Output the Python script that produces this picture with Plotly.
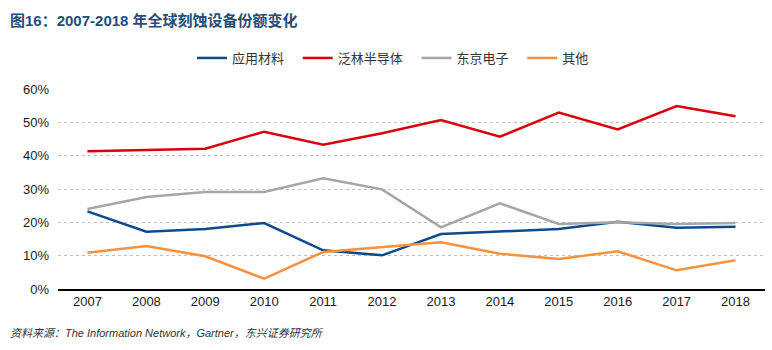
import plotly.graph_objects as go

years = ["2007", "2008", "2009", "2010", "2011", "2012", "2013", "2014", "2015", "2016", "2017", "2018"]
amat = [23.3, 17.2, 18.0, 19.8, 11.6, 10.1, 16.5, 17.2, 18.0, 20.2, 18.4, 18.7]
lam = [41.3, 41.8, 42.1, 47.2, 43.3, 46.7, 50.7, 45.7, 52.9, 47.9, 54.9, 51.8]
tel = [24.0, 27.6, 29.1, 29.1, 33.2, 29.9, 18.5, 25.7, 19.5, 20.0, 19.5, 19.8]
other = [10.9, 12.9, 9.8, 3.1, 11.1, 12.6, 14.0, 10.6, 9.0, 11.3, 5.6, 8.6]

names = ["应用材料", "泛林半导体", "东京电子", "其他"]
colors = ["#0E4A8A", "#D9000D", "#A6A6A6", "#F7913D"]
series = [amat, lam, tel, other]

yticks = [0, 10, 20, 30, 40, 50, 60]
yticklabels = ["0%", "10%", "20%", "30%", "40%", "50%", "60%"]

W, H = 772, 350
L, R, T, B = 58, 7, 88, 61
pw, ph = W - L - R, H - T - B


def px(x):
    return (x - L) / pw


def py(y):
    return (H - B - y) / ph


fig = go.Figure()
for n, c, s in zip(names, colors, series):
    fig.add_trace(go.Scatter(x=years, y=s, name=n + "\u00a0\u00a0\u00a0", mode="lines",
                             line=dict(color=c, width=2.5)))

fig.update_layout(
    width=W, height=H,
    margin=dict(l=L, r=R, t=T, b=B),
    paper_bgcolor="white", plot_bgcolor="white",
    font=dict(family="Liberation Sans, Noto Sans CJK SC", size=13, color="#1a1a1a"),
    showlegend=True,
    legend=dict(orientation="h", x=px(192), xanchor="left", y=1 - 58 / H, yanchor="middle",
                yref="container", font=dict(family="Noto Sans CJK SC", size=13, color="#333333"),
                itemwidth=30, tracegroupgap=0),
    xaxis=dict(type="category", range=[-0.5, 11.5], showgrid=False,
               showline=True, linecolor="#000000", linewidth=1.5,
               ticks="", tickfont=dict(size=13, color="#1a1a1a")),
    yaxis=dict(range=[0, 60.3], tickvals=yticks, ticktext=yticklabels,
               showgrid=True, gridcolor="#BFBFBF", griddash="dot", gridwidth=1,
               zeroline=False, showline=False, ticks="", ticklabelstandoff=8,
               tickfont=dict(size=13, color="#1a1a1a")),
)

fig.add_annotation(text="<b>图16：2007-2018 年全球刻蚀设备份额变化</b>", xref="paper", yref="paper",
                   x=px(8), y=py(10), xanchor="left", yanchor="top", showarrow=False,
                   font=dict(family="Liberation Sans, Noto Sans CJK SC", size=15, color="#1F4E79"))

fig.add_annotation(text="<i>资料来源：The Information Network，Gartner，东兴证券研究所</i>",
                   xref="paper", yref="paper", x=px(8), y=py(333),
                   xanchor="left", yanchor="middle", showarrow=False,
                   font=dict(family="Liberation Sans, Noto Sans CJK SC", size=11, color="#333333"))

fig.write_html("out.html")
